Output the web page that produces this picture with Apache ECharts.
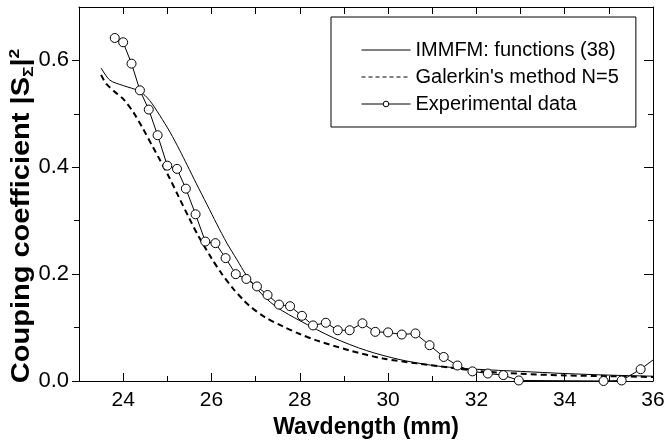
<!DOCTYPE html>
<html>
<head>
<meta charset="utf-8">
<script src="https://cdn.jsdelivr.net/npm/echarts@6/dist/echarts.min.js"></script>
<style>html,body{margin:0;padding:0;background:#fff;}#c{width:667px;height:448px;}</style>
</head>
<body>
<div id="c"></div>
<script>
// IMMFM: functions (38)
var immfmX = [23.5, 23.7, 24.0, 24.38, 24.6, 24.83, 25.06, 25.28, 25.45, 25.66, 25.9, 26.12, 26.35, 26.57, 26.8, 27.17, 27.5, 28.0, 28.76, 29.51, 30.27, 31.02, 31.5, 32, 33, 34, 35, 36];
var immfmY = [0.586, 0.563, 0.553, 0.542, 0.525, 0.497, 0.466, 0.432, 0.404, 0.369, 0.330, 0.294, 0.258, 0.228, 0.197, 0.160, 0.137, 0.113, 0.081, 0.057, 0.040, 0.029, 0.025, 0.022, 0.018, 0.014, 0.011, 0.009];
// Galerkin's method N=5
var galX = [23.5, 23.62, 23.8, 24.0, 24.23, 24.45, 24.68, 24.85, 25.05, 25.25, 25.5, 25.7, 26.0, 26.23, 26.5, 26.72, 26.87, 27.2, 27.62, 28.0, 28.38, 29.14, 29.89, 30.65, 31.4, 32, 33, 34, 35, 36];
var galY = [0.573, 0.556, 0.542, 0.528, 0.503, 0.472, 0.437, 0.411, 0.380, 0.346, 0.304, 0.272, 0.230, 0.201, 0.172, 0.152, 0.140, 0.120, 0.102, 0.088, 0.076, 0.057, 0.042, 0.033, 0.025, 0.019, 0.0135, 0.0105, 0.009, 0.0075];
// Experimental data
var expX = [23.81, 24.0, 24.19, 24.38, 24.58, 24.78, 25.0, 25.22, 25.42, 25.64, 25.86, 26.09, 26.32, 26.55, 26.79, 27.03, 27.27, 27.53, 27.78, 28.05, 28.30, 28.59, 28.86, 29.13, 29.42, 29.71, 30.0, 30.31, 30.62, 30.94, 31.26, 31.57, 31.91, 32.26, 32.61, 32.96, 34.88, 35.29, 35.72, 36.3];
var expY = [0.642, 0.634, 0.594, 0.544, 0.508, 0.460, 0.403, 0.397, 0.360, 0.312, 0.261, 0.258, 0.230, 0.200, 0.191, 0.177, 0.161, 0.143, 0.140, 0.122, 0.104, 0.109, 0.095, 0.095, 0.108, 0.092, 0.091, 0.087, 0.089, 0.067, 0.045, 0.029, 0.018, 0.014, 0.011, 0.001, 0.0, 0.001, 0.022, 0.058];

var xMajor = [24, 26, 28, 30, 32, 34, 36];
var xMinor = [25, 27, 29, 31, 33, 35];
var yMajor = [0, 0.2, 0.4, 0.6];
var yMinor = [0.1, 0.3, 0.5];

function pairs(xs, ys) { return xs.map(function (x, i) { return [x, ys[i]]; }); }

var FONT = 'Liberation Sans, Arial, sans-serif';
var black = '#000';
var chart = echarts.init(document.getElementById('c'), null, { renderer: 'canvas' });

function xAx(pos, ticks, len, labels, showLine) {
  return {
    type: 'value', position: pos, min: 23, max: 36, gridIndex: 0,
    axisLine: { show: showLine, onZero: false, lineStyle: { color: black, width: 1 } },
    axisTick: { show: true, inside: true, length: len, customValues: ticks, lineStyle: { color: black, width: 1 } },
    axisLabel: labels ? { show: true, customValues: ticks, color: black, fontSize: 21, fontFamily: FONT, margin: 9 } : { show: false },
    splitLine: { show: false }
  };
}
function yAx(pos, ticks, len, inside, labels, showLine) {
  return {
    type: 'value', position: pos, min: 0, max: 0.7, gridIndex: 0,
    axisLine: { show: showLine, onZero: false, lineStyle: { color: black, width: 1 } },
    axisTick: { show: true, inside: inside, length: len, customValues: ticks, lineStyle: { color: black, width: 1 } },
    axisLabel: labels ? { show: true, customValues: ticks, color: black, fontSize: 22, fontFamily: FONT, margin: 10,
      formatter: function (v) { return v.toFixed(1); } } : { show: false },
    splitLine: { show: false }
  };
}

var xAxes = [
  xAx('bottom', xMajor, 8, true, true),
  xAx('bottom', xMinor, 5, false, false),
  xAx('top', xMajor.concat(xMinor), 7, false, true)
];
xAxes[0].name = 'Wavdength (mm)';
xAxes[0].nameLocation = 'middle';
xAxes[0].nameGap = 35;
xAxes[0].nameTextStyle = { color: black, fontSize: 23, fontWeight: 'bold', fontFamily: FONT };

var yAxes = [
  yAx('left', yMajor, 7, false, true, true),
  yAx('left', yMinor, 5, false, false, false),
  yAx('right', [0.2, 0.4, 0.6], 9, true, false, true),
  yAx('right', yMinor, 5, true, false, false)
];

var yTitle = 'Couping coefficient |S{sub|Σ}|{sup|2}';

chart.setOption({
  animation: false,
  backgroundColor: '#fff',
  grid: { left: 79, right: 14, top: 7, bottom: 67, containLabel: false, outerBoundsMode: 'none' },
  xAxis: xAxes,
  yAxis: yAxes,
  graphic: [{
    type: 'text', x: 22, y: 216, rotation: Math.PI / 2, scaleX: 1.16,
    style: {
      text: yTitle, fill: black, fontSize: 25, fontWeight: 'bold', fontFamily: FONT,
      align: 'center', verticalAlign: 'middle',
      rich: {
        sub: { fontSize: 15, fontWeight: 'bold', fontFamily: FONT, fill: black, verticalAlign: 'bottom', padding: [14, 0, 0, 0] },
        sup: { fontSize: 15, fontWeight: 'bold', fontFamily: FONT, fill: black, verticalAlign: 'top', padding: [0, 0, 12, 0] }
      }
    }
  }],
  legend: {
    orient: 'vertical', left: 331, top: 17,
    borderColor: black, borderWidth: 1, borderRadius: 0,
    padding: [22, 17, 12, 30],
    itemWidth: 49, itemHeight: 7, itemGap: 5,
    textStyle: { color: black, fontSize: 20, fontFamily: FONT, padding: [0, 0, 0, 0], lineHeight: 22 },
    data: [
      { name: 'IMMFM: functions (38)', itemStyle: { opacity: 0 }, lineStyle: { width: 1 } },
      { name: "Galerkin's method N=5", itemStyle: { opacity: 0 }, lineStyle: { width: 1, type: [4, 3] } },
      { name: 'Experimental data', lineStyle: { width: 1 }, itemStyle: { borderWidth: 1 } }
    ]
  },
  series: [
    {
      name: 'IMMFM: functions (38)', type: 'line', data: pairs(immfmX, immfmY),
      smooth: 0.3, showSymbol: false, symbol: 'none',
      lineStyle: { color: black, width: 1 }, itemStyle: { color: black }, z: 2
    },
    {
      name: "Galerkin's method N=5", type: 'line', data: pairs(galX, galY),
      smooth: 0.3, showSymbol: false, symbol: 'none',
      lineStyle: { color: black, width: 2, type: [6, 4] }, itemStyle: { color: black }, z: 2
    },
    {
      name: 'Experimental data', type: 'line', data: pairs(expX, expY), clip: true,
      symbol: 'circle', symbolSize: 9,
      lineStyle: { color: black, width: 1 },
      itemStyle: { color: '#fff', borderColor: black, borderWidth: 1 }, z: 3
    }
  ]
});
</script>
</body>
</html>
